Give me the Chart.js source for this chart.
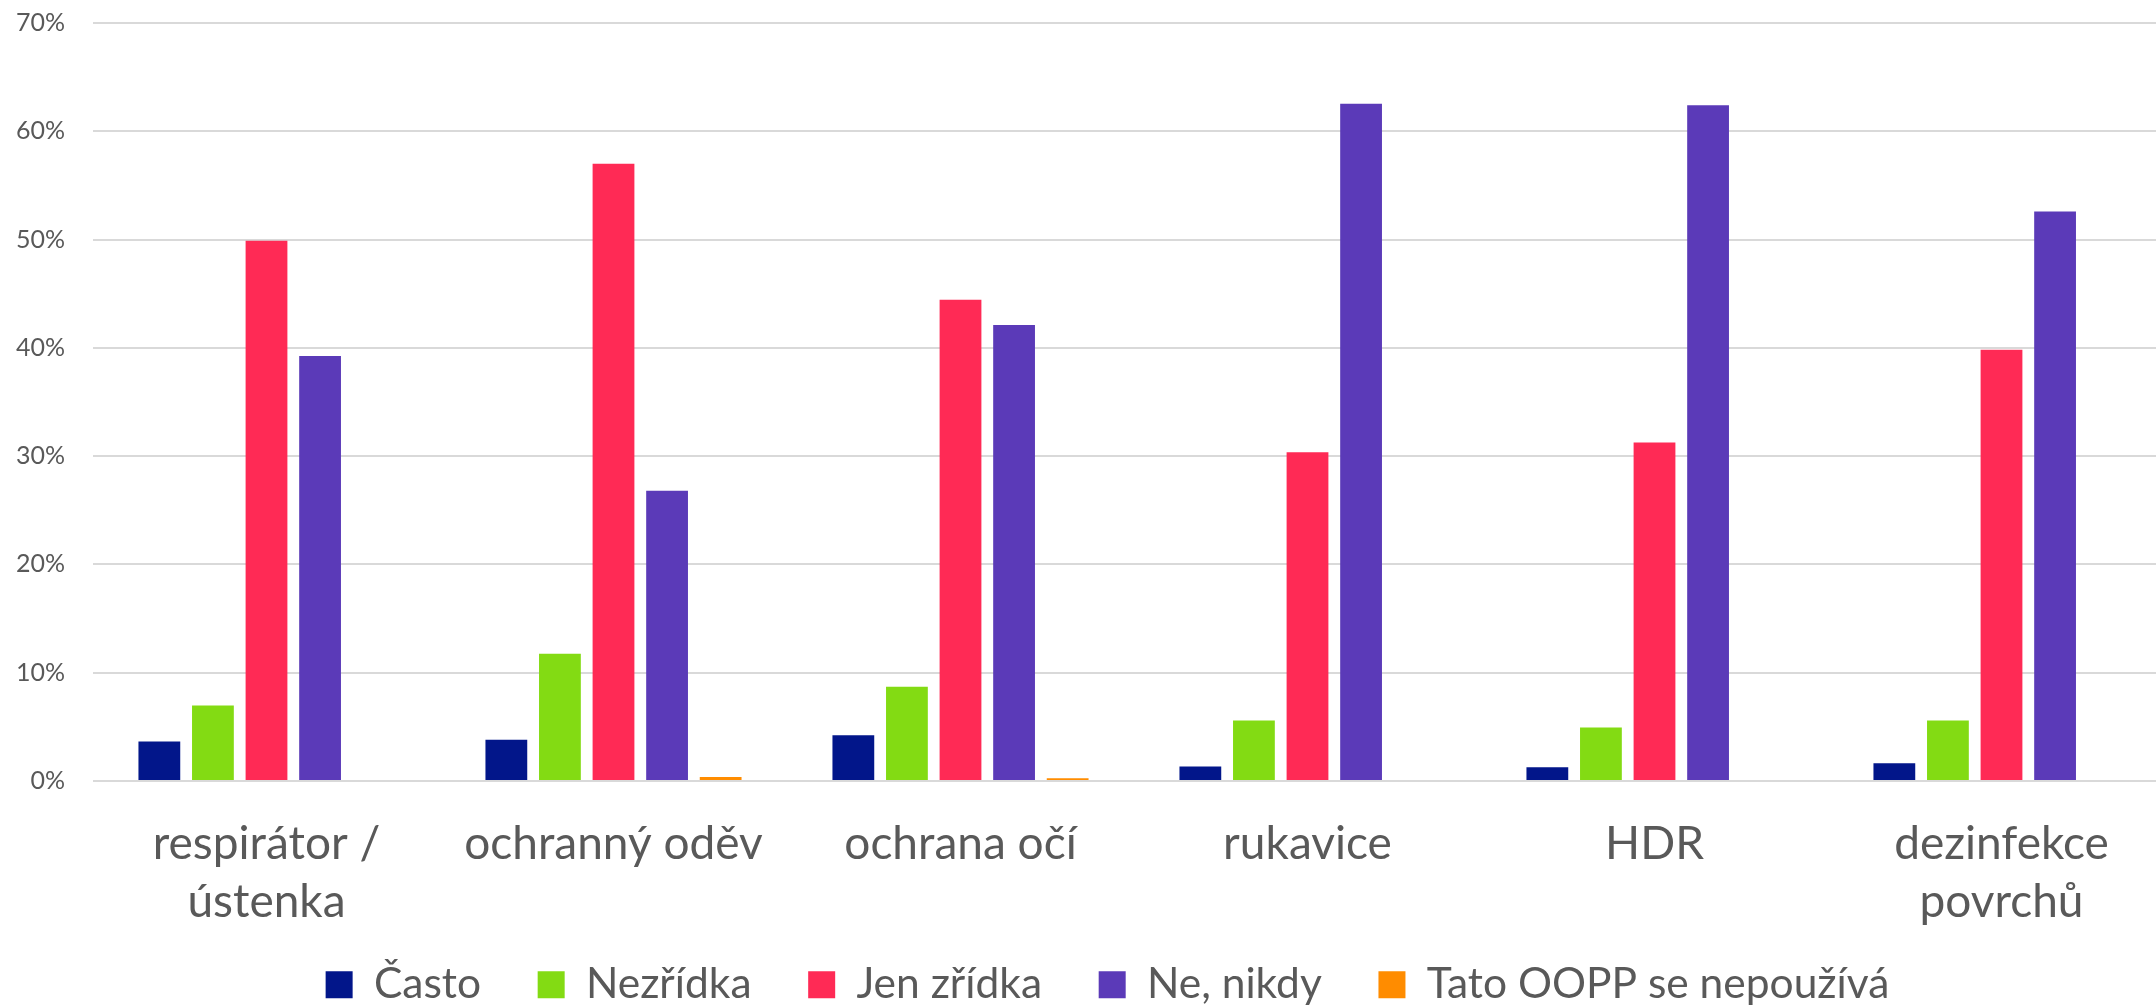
<!DOCTYPE html>
<html>
<head>
<meta charset="utf-8">
<script src="https://cdn.jsdelivr.net/npm/chart.js@4.4.1/dist/chart.umd.min.js"></script>
<style>
  html, body { margin: 0; padding: 0; background: #ffffff; overflow: hidden; }
  canvas { display: block; }
</style>
</head>
<body>
<canvas id="c" width="2216" height="1016"></canvas>
<script>
const categories = [
  ['respirátor /', 'ústenka'],
  'ochranný oděv',
  'ochrana očí',
  'rukavice',
  'HDR',
  ['dezinfekce', 'povrchů']
];
const seriesNames = ['Často', 'Nezřídka', 'Jen zřídka', 'Ne, nikdy', 'Tato OOPP se nepoužívá'];
const casto     = [3.64, 3.8, 4.23, 1.35, 1.27, 1.65];
const nezridka  = [6.98, 11.75, 8.71, 5.58, 4.95, 5.58];
const jenZridka = [49.9, 57.0, 44.44, 30.36, 31.25, 39.83];
const neNikdy   = [39.24, 26.8, 42.1, 62.54, 62.41, 52.6];
const tatoOOPP  = [0, 0.38, 0.25, 0, 0, 0.1];
const yTicks = [0, 10, 20, 30, 40, 50, 60, 70];

const colors = ['#02168A', '#83DB13', '#FF2A55', '#5B3AB8', '#FF8C00'];
const seriesValues = [casto, nezridka, jenZridka, neNikdy, tatoOOPP];

const datasets = seriesNames.map((name, i) => ({
  label: name,
  data: seriesValues[i],
  backgroundColor: colors[i],
  borderWidth: 0,
  categoryPercentage: 0.772,
  barPercentage: 0.78
}));

const LEGEND_GAP = '   ';

new Chart(document.getElementById('c'), {
  type: 'bar',
  data: { labels: categories, datasets },
  options: {
    responsive: false,
    animation: false,
    layout: { padding: { left: 0, right: 1, top: 23, bottom: 0 } },
    plugins: {
      tooltip: { enabled: false },
      legend: {
        position: 'bottom',
        labels: {
          boxWidth: 27,
          boxHeight: 27,
          padding: 24,
          color: '#595959',
          font: { family: 'Lato', size: 42.5 },
          generateLabels: (chart) => {
            const items = Chart.defaults.plugins.legend.labels.generateLabels(chart);
            items.forEach((it, i) => {
              it.lineWidth = 0;
              if (i < items.length - 1) it.text = it.text + LEGEND_GAP;
            });
            return items;
          }
        }
      }
    },
    scales: {
      x: {
        grid: { display: false, drawTicks: false },
        border: { display: false },
        ticks: {
          color: '#595959',
          padding: 34,
          maxRotation: 0,
          autoSkip: false,
          font: { family: 'Lato', size: 46, lineHeight: 1.26 }
        },
        afterFit: (s) => { s.height = 158.5; }
      },
      y: {
        min: 0,
        max: 70,
        afterBuildTicks: (s) => { s.ticks = yTicks.map(v => ({ value: v })); },
        grid: { color: '#d9d9d9', lineWidth: 2, drawTicks: false },
        border: { display: false },
        ticks: {
          color: '#595959',
          padding: 28,
          font: { family: 'Lato', size: 25 },
          callback: (v) => v + '%'
        },
        afterFit: (s) => { s.width = 93; s.paddingTop = 0; s.paddingBottom = 0; }
      },
      y2: {
        position: 'right',
        display: true,
        grid: { display: false, drawTicks: false },
        border: { display: false },
        ticks: { display: false },
        afterFit: (s) => { s.width = 40; s.paddingTop = 0; s.paddingBottom = 0; }
      }
    }
  }
});
</script>
</body>
</html>
